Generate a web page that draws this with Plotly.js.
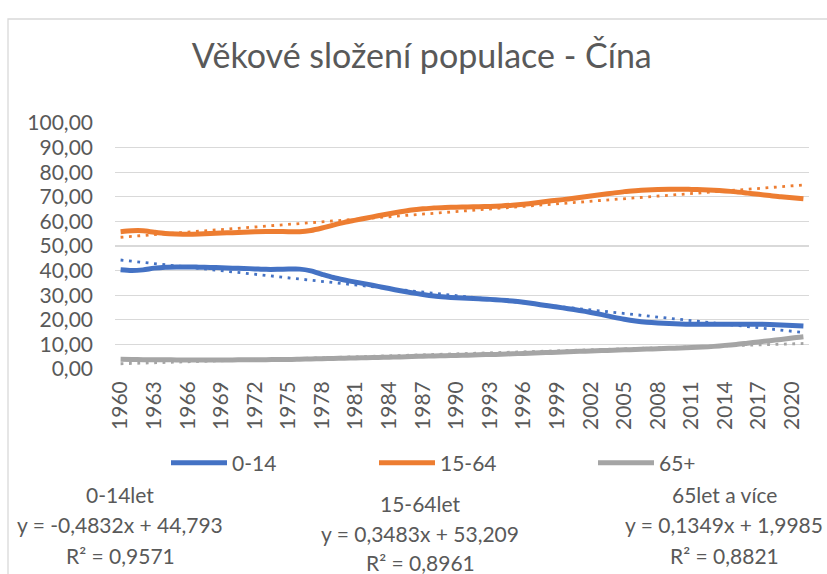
<!DOCTYPE html>
<html>
<head>
<meta charset="utf-8">
<script src="https://cdn.plot.ly/plotly-3.0.1.min.js"></script>
<style>html,body{margin:0;padding:0;background:#fff;}#chart{width:827px;height:574px;}</style>
</head>
<body>
<div id="chart"></div>
<script>
// ---- data ----
const years = [1960,1961,1962,1963,1964,1965,1966,1967,1968,1969,
  1970,1971,1972,1973,1974,1975,1976,1977,1978,1979,
  1980,1981,1982,1983,1984,1985,1986,1987,1988,1989,
  1990,1991,1992,1993,1994,1995,1996,1997,1998,1999,
  2000,2001,2002,2003,2004,2005,2006,2007,2008,2009,
  2010,2011,2012,2013,2014,2015,2016,2017,2018,2019,2020,2021];
const age0_14 = [40.3,40.0,40.3,41.0,41.4,41.5,41.5,41.4,41.3,41.2,
  41.0,40.9,40.7,40.5,40.5,40.6,40.6,39.9,38.5,37.2,
  36.2,35.3,34.5,33.6,32.7,31.8,31.0,30.3,29.7,29.3,
  29.0,28.8,28.6,28.3,28.0,27.6,27.1,26.5,25.8,25.2,
  24.5,23.8,23.0,22.1,21.1,20.2,19.5,19.0,18.7,18.5,
  18.3,18.2,18.2,18.2,18.2,18.2,18.2,18.2,18.1,17.9,17.7,17.5];
const age15_64 = [55.8,56.2,56.2,55.6,55.1,54.9,54.8,54.9,55.1,55.3,
  55.4,55.6,55.8,55.9,55.9,55.8,55.8,56.3,57.3,58.5,
  59.6,60.5,61.4,62.3,63.1,63.9,64.6,65.1,65.5,65.7,
  65.8,65.9,66.0,66.1,66.3,66.6,67.0,67.5,68.1,68.6,
  69.1,69.7,70.3,70.9,71.5,72.1,72.5,72.8,73.0,73.1,
  73.1,73.0,72.9,72.7,72.4,72.0,71.5,71.0,70.5,70.0,69.6,69.2];
const age65 = [4.0,3.9,3.8,3.8,3.8,3.7,3.7,3.7,3.7,3.7,
  3.7,3.8,3.8,3.8,3.9,3.9,4.0,4.1,4.2,4.3,
  4.4,4.5,4.6,4.7,4.8,4.9,5.1,5.2,5.3,5.4,
  5.5,5.6,5.8,5.9,6.0,6.2,6.3,6.5,6.7,6.8,
  7.0,7.2,7.3,7.5,7.6,7.8,7.9,8.1,8.2,8.4,
  8.5,8.7,8.9,9.2,9.6,10.0,10.5,11.0,11.5,12.0,12.6,13.1];
const seriesNames = ["0-14","15-64","65+"];
const trendLabels = ["0-14let","15-64let","65let a více"];
const trendSlopes = [-0.4832, 0.3483, 0.1349];
const trendIntercepts = [44.793, 53.209, 1.9985];
const trendR2 = [0.9571, 0.8961, 0.8821];
const xTickVals = [1960,1963,1966,1969,1972,1975,1978,1981,1984,1987,1990,1993,1996,1999,2002,2005,2008,2011,2014,2017,2020];
const xTickText = ["1960","1963","1966","1969","1972","1975","1978","1981","1984","1987","1990","1993","1996","1999","2002","2005","2008","2011","2014","2017","2020"];

// ---- style ----
const colors = ["#4472C4","#ED7D31","#A5A5A5"];
const textColor = "#595959";
const FONT = "Lato, 'Open Sans', sans-serif";
const W = 827, H = 574;
const M = {l:115, r:18, t:123, b:205};
const plotW = W - M.l - M.r, plotH = H - M.t - M.b;
const px = x => (x - M.l) / plotW;
const py = y => (H - M.b - y) / plotH;
const fmt = v => String(v).replace('.', ',');

const allSeries = [age0_14, age15_64, age65];
const traces = [];
allSeries.forEach((vals, i) => {
  traces.push({
    x: years, y: vals, type: 'scatter', mode: 'lines', name: seriesNames[i],
    line: {color: colors[i], width: 5, shape: 'spline', smoothing: 0.8},
    legend: i === 0 ? 'legend' : 'legend' + (i + 1),
    hoverinfo: 'skip'
  });
});
// linear trendlines from displayed coefficients (x = index 1..n)
allSeries.forEach((vals, i) => {
  const n = vals.length;
  traces.push({
    x: [years[0], years[n - 1]],
    y: [trendSlopes[i] * 1 + trendIntercepts[i], trendSlopes[i] * n + trendIntercepts[i]],
    type: 'scatter', mode: 'lines', showlegend: false, hoverinfo: 'skip',
    line: {color: colors[i], width: 2.8, dash: '2.8px,5.6px'}
  });
});

const annotations = [];
const annX = [120, 420, 724];
const annY0 = [494, 503, 494];
for (let i = 0; i < 3; i++) {
  const sign = trendIntercepts[i] >= 0 ? ' + ' : ' - ';
  const lines = [
    trendLabels[i],
    'y = ' + fmt(trendSlopes[i]) + 'x' + sign + fmt(Math.abs(trendIntercepts[i])),
    'R² = ' + fmt(trendR2[i])
  ];
  lines.forEach((t, k) => {
    annotations.push({
      text: t, xref: 'paper', yref: 'paper', x: px(annX[i]), y: py(annY0[i] + k * 30.5 - (k === 2 && i === 1 ? 1.5 : 0)),
      xanchor: 'center', yanchor: 'middle', showarrow: false,
      font: {family: FONT, size: 21, color: textColor}
    });
  });
}

const legendX = [171, 379, 598];
const legendBase = {orientation: 'h', yanchor: 'middle', xanchor: 'left', bgcolor: 'rgba(0,0,0,0)',
  font: {family: FONT, size: 21, color: textColor}, itemwidth: 56};

const layout = {
  width: W, height: H, margin: M,
  paper_bgcolor: '#fff', plot_bgcolor: '#fff',
  separators: ', ',
  showlegend: true,
  title: {text: 'Věkové složení populace - Čína', x: 0.51, xanchor: 'center', y: 1 - 56 / H, yanchor: 'middle', yref: 'container',
    font: {family: FONT, size: 34, color: textColor}},
  xaxis: {range: [1959.5, 2021.5], tickmode: 'array', tickvals: xTickVals, ticktext: xTickText, tickangle: -90,
    showgrid: false, zeroline: false, showline: false, ticks: '', ticklabelstandoff: 7,
    tickfont: {family: FONT, size: 21, color: textColor}},
  yaxis: {range: [0, 100], dtick: 10, tick0: 0, tickformat: '.2f', showgrid: true, gridcolor: '#D9D9D9', gridwidth: 1.3,
    zeroline: false, showline: false, ticks: '', ticklabelstandoff: 21,
    tickfont: {family: FONT, size: 21, color: textColor}},
  legend: Object.assign({}, legendBase, {x: px(legendX[0] - 5), y: py(463)}),
  legend2: Object.assign({}, legendBase, {x: px(legendX[1] - 5), y: py(463)}),
  legend3: Object.assign({}, legendBase, {x: px(legendX[2] - 5), y: py(463)}),
  annotations: annotations,
  shapes: [{type: 'rect', xref: 'paper', yref: 'paper', x0: px(8), x1: px(900), y0: py(19), y1: py(700),
    line: {color: '#D9D9D9', width: 1.3}, fillcolor: 'rgba(0,0,0,0)', layer: 'below'}]
};

Plotly.newPlot('chart', traces, layout, {displayModeBar: false, staticPlot: true});
</script>
</body>
</html>
